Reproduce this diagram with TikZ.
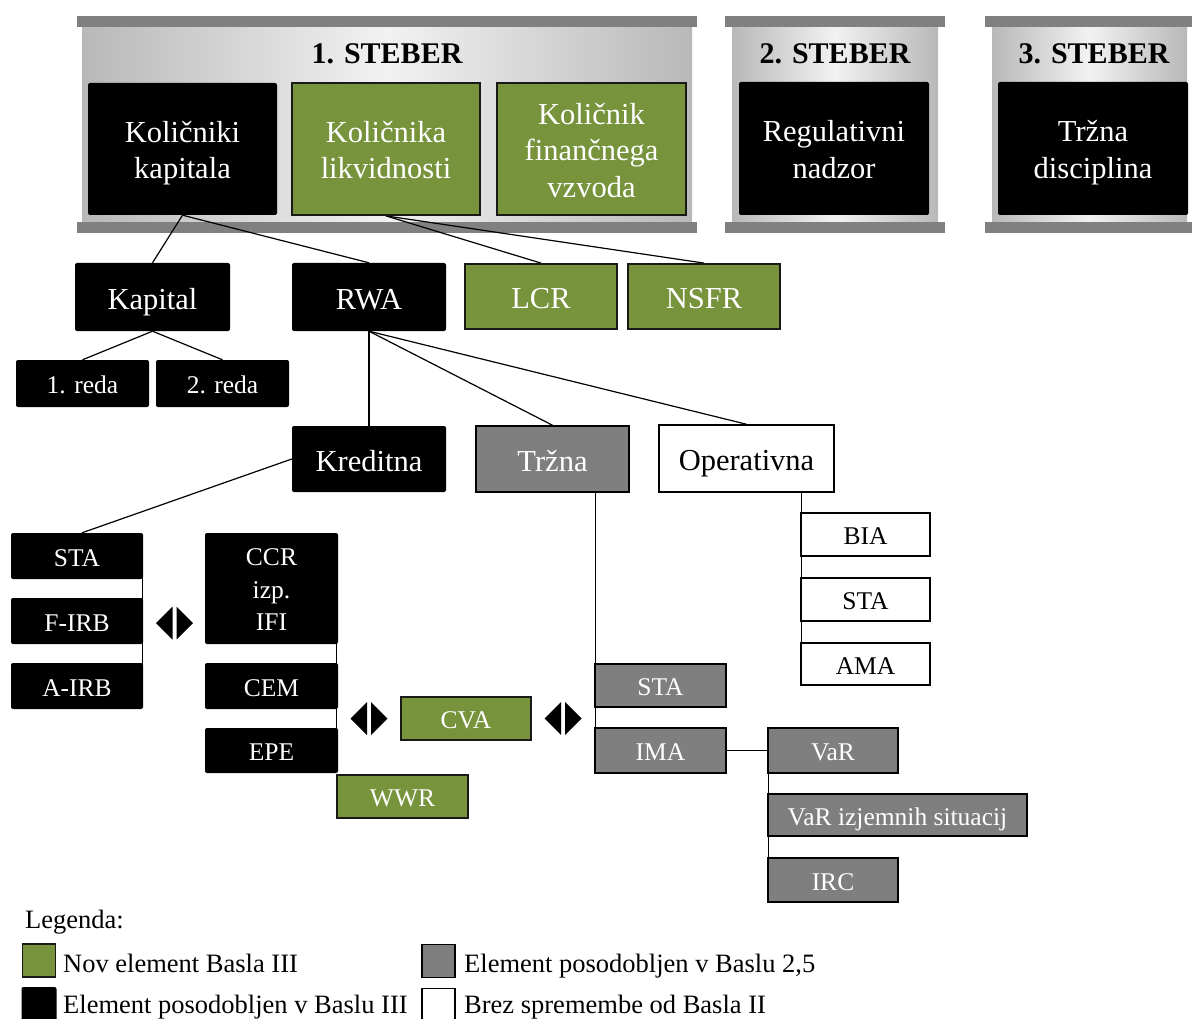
\documentclass[tikz,border=0pt]{standalone}
\usepackage{fontspec}
\setmainfont{Liberation Serif}
\usetikzlibrary{calc}
\pgfdeclarelayer{pillarlayer}
\pgfdeclarelayer{linklayer}
\pgfsetlayers{pillarlayer,linklayer,main}
\definecolor{olive}{HTML}{77933C}
\definecolor{midgray}{HTML}{7F7F7F}
\definecolor{bargray}{HTML}{808080}
\definecolor{shadeedge}{HTML}{B8B8B8}
\definecolor{shademid}{HTML}{F2F2F2}

% invisible struts that sit the text a little below the box centre
\newcommand\boxstrut{\rule[-0.25em]{0pt}{1.302em}}
\newcommand\firststrut{\rule{0pt}{1.012em}}
\newcommand\laststrut{\rule[-0.25em]{0pt}{0.25em}}

\tikzset{
  big/.style={font=\fontsize{30.5}{36.6}\selectfont},
  small/.style={font=\fontsize{25.5}{32.5}\selectfont},
  legtext/.style={font=\fontsize{26.5}{30}\selectfont, inner sep=0pt, anchor=base west},
  title/.style={font=\bfseries\fontsize{30}{36}\selectfont, inner sep=0pt},
  boxbase/.style={rectangle, inner sep=0pt, align=center,
    execute at begin node=\boxstrut, execute at end node=\boxstrut},
  multi/.style={execute at begin node={}, execute at end node={}},
  blk/.style={boxbase, fill=black, text=white, rounded corners=2pt},
  grn/.style={boxbase, fill=olive, draw=black!90, line width=1.8pt, text=white},
  gry/.style={boxbase, fill=midgray, draw=black, line width=1.5pt, text=white},
  wht/.style={boxbase, fill=white, draw=black, line width=1.5pt, text=black},
  sz/.style 2 args={minimum width=#1pt, minimum height=#2pt},
  link/.style={draw=black, line width=1.2pt},
  bar/.style={fill=bargray},
  pillarbody/.style={left color=shadeedge, right color=shadeedge, middle color=shademid},
  dblarrow/.pic={
    \fill[black] (-18.5,0) -- (-2,-16.5) -- (-2,16.5) -- cycle;
    \fill[black] (18.5,0) -- (2,-16.5) -- (2,16.5) -- cycle;
  },
}

\begin{document}
\begin{tikzpicture}[x=1pt, y=-1pt]
\useasboundingbox (0,0) rectangle (1192,1019);

% --- the three pillars ---
\begin{pgfonlayer}{pillarlayer}
  \shade[pillarbody] (82,27) rectangle (692,222);
  \fill[bar] (77,16) rectangle (697,27);
  \fill[bar] (77,222) rectangle (697,233);
  \shade[pillarbody] (732,27) rectangle (938,222);
  \fill[bar] (725,16) rectangle (945,27);
  \fill[bar] (725,222) rectangle (945,233);
  \shade[pillarbody] (992,27) rectangle (1187,222);
  \fill[bar] (985,16) rectangle (1192,27);
  \fill[bar] (985,222) rectangle (1192,233);
\end{pgfonlayer}

\node[title] (t1) at (387,54) {1. STEBER};
\node[title] (t2) at (835,54) {2. STEBER};
\node[title] (t3) at (1094,54) {3. STEBER};

\node[blk, multi, big, sz={189}{132}] (kk) at (182.5,149) {\firststrut Količniki\\kapitala\laststrut};
\node[grn, multi, big, sz={188}{132}] (kl) at (386,149) {\firststrut Količnika\\likvidnosti\laststrut};
\node[grn, multi, big, sz={189}{132}] (kf) at (591.5,149) {\firststrut Količnik\\finančnega\\vzvoda\laststrut};
\node[blk, multi, big, sz={190}{133}] (rn) at (834,148.5) {\firststrut Regulativni\\nadzor\laststrut};
\node[blk, multi, big, sz={190}{133}] (td) at (1093,148.5) {\firststrut Tržna\\disciplina\laststrut};

% --- second level ---
\node[blk, big, sz={155}{68}] (kap) at (152.5,297) {Kapital};
\node[blk, big, sz={154}{68}] (rwa) at (369,297) {RWA};
\node[grn, big, sz={152}{65}] (lcr) at (541,296.5) {LCR};
\node[grn, big, sz={152}{65}] (nsfr) at (704,296.5) {NSFR};
\node[blk, small, sz={133}{47}] (r1) at (82.5,383.5) {1. reda};
\node[blk, small, sz={133}{47}] (r2) at (222.5,383.5) {2. reda};

% --- risk types ---
\node[blk, big, sz={154}{66}] (kred) at (369,459) {Kreditna};
\node[gry, big, sz={153}{66}] (trz) at (552.5,459) {Tržna};
\node[wht, big, sz={175}{67}] (op) at (746.5,458.5) {Operativna};

% credit risk approaches
\node[blk, small, sz={132}{46}] (sta1) at (77,556) {STA};
\node[blk, small, sz={132}{46}] (firb) at (77,621) {F-IRB};
\node[blk, small, sz={132}{46}] (airb) at (77,686) {A-IRB};
\node[blk, multi, small, sz={133}{111}] (ccr) at (271.5,588.5) {\firststrut CCR\\izp.\\IFI\laststrut};
\node[blk, small, sz={133}{46}] (cem) at (271.5,686) {CEM};
\node[blk, small, sz={133}{45}] (epe) at (271.5,750.5) {EPE};
\node[grn, small, sz={131}{43}] (wwr) at (402.5,796.5) {WWR};
\node[grn, small, sz={130}{43}] (cva) at (466,718.5) {CVA};

% market risk approaches
\node[gry, small, sz={131}{43}] (sta2) at (660.5,685.5) {STA};
\node[gry, small, sz={131}{45}] (ima) at (660.5,750.5) {IMA};
\node[gry, small, sz={130}{45}] (var) at (833,750.5) {VaR};
\node[gry, small, sz={259}{42}] (vari) at (897.5,815) {VaR izjemnih situacij};
\node[gry, small, sz={130}{44}] (irc) at (833,880) {IRC};

% operational risk approaches
\node[wht, small, sz={129}{43}] (bia) at (865.5,534.5) {BIA};
\node[wht, small, sz={129}{43}] (sta3) at (865.5,599.5) {STA};
\node[wht, small, sz={129}{42}] (ama) at (865.5,664) {AMA};

% two-way markers
\pic at (174.5,623) {dblarrow};
\pic at (369,718.5) {dblarrow};
\pic at (563,718.5) {dblarrow};

% --- connectors ---
\begin{pgfonlayer}{linklayer}
  \draw[link] (kk.south) -- (kap.north);
  \draw[link] (kk.south) -- (rwa.north);
  \draw[link] (kl.south) -- (lcr.north);
  \draw[link] (kl.south) -- (nsfr.north);
  \draw[link] (kap.south) -- (r1.north);
  \draw[link] (kap.south) -- (r2.north);
  \draw[link] (rwa.south) -- (kred.north);
  \draw[link] (rwa.south) -- (trz.north);
  \draw[link] (rwa.south) -- (op.north);
  \draw[link] (kred.west) -- ($(sta1.north)+(5,0)$);
  \draw[link] ($(sta1.east)+(-1,0)$) -- ($(airb.east)+(-1,0)$);
  \draw[link] ($(ccr.east)+(-2,0)$) -- ($(epe.east)+(-2,0)$);
  \draw[link] ($(sta2.west |- trz.south)+(1,0)$) -- ($(ima.west)+(1,0)$);
  \draw[link] ($(bia.west |- op.south)+(1,0)$) -- ($(ama.west)+(1,0)$);
  \draw[link] (ima.east) -- (var.west);
  \draw[link] ($(var.west)+(1,0)$) -- ($(irc.west)+(1,0)$);
\end{pgfonlayer}

% --- legend ---
\node[legtext] (leg) at (25,928) {Legenda:};
\node[grn, sz={33}{33}, line width=1.4pt] (sw1) at (39,960.5) {};
\node[legtext] (lt1) at (63,972) {Nov element Basla III};
\node[gry, sz={33}{33}, line width=1.4pt] (sw2) at (438.5,961) {};
\node[legtext] (lt2) at (464,972) {Element posodobljen v Baslu 2,5};
\node[blk, sz={35}{35}] (sw3) at (39,1004.5) {};
\node[legtext] (lt3) at (63,1013) {Element posodobljen v Baslu III};
\node[wht, sz={33}{33}, line width=1.2pt] (sw4) at (438.5,1005) {};
\node[legtext] (lt4) at (464,1013) {Brez spremembe od Basla II};
\end{tikzpicture}
\end{document}
